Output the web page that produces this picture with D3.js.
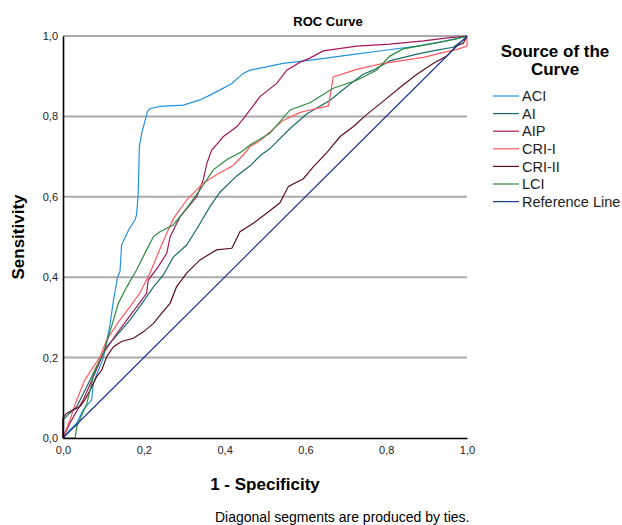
<!DOCTYPE html>
<html>
<head>
<meta charset="utf-8">
<script src="https://cdn.jsdelivr.net/npm/d3@7"></script>
<style>
  body { margin: 0; background: #fff; }
  text { font-family: "Liberation Sans", Arial, sans-serif; }
</style>
</head>
<body>
<div id="chart"></div>
<script>
// ROC curve points: [1 - specificity, sensitivity]
const aci = [[0,0],[0.017,0.02],[0.034,0.037],[0.05,0.07],[0.071,0.095],[0.075,0.136],[0.088,0.169],[0.1,0.2],[0.11,0.25],[0.116,0.28],[0.125,0.343],[0.135,0.4],[0.141,0.414],[0.145,0.48],[0.162,0.517],[0.178,0.542],[0.182,0.555],[0.186,0.604],[0.189,0.725],[0.195,0.759],[0.209,0.812],[0.215,0.819],[0.24,0.825],[0.298,0.828],[0.339,0.841],[0.364,0.853],[0.389,0.866],[0.418,0.882],[0.446,0.907],[0.463,0.915],[0.488,0.92],[0.545,0.932],[0.628,0.942],[0.71,0.953],[0.793,0.964],[0.876,0.975],[0.941,0.986],[0.991,0.998],[1,1]];
const ai = [[0,0],[0,0.045],[0.012,0.057],[0.034,0.078],[0.059,0.128],[0.083,0.177],[0.108,0.227],[0.137,0.26],[0.166,0.294],[0.19,0.327],[0.224,0.376],[0.248,0.405],[0.273,0.45],[0.306,0.48],[0.331,0.52],[0.364,0.576],[0.389,0.612],[0.43,0.652],[0.463,0.677],[0.488,0.702],[0.512,0.72],[0.562,0.77],[0.603,0.806],[0.661,0.84],[0.71,0.88],[0.743,0.905],[0.768,0.915],[0.809,0.938],[0.876,0.955],[0.925,0.965],[0.966,0.972],[0.991,0.99],[1,1]];
const aip = [[0,0],[0.017,0.037],[0.05,0.095],[0.075,0.152],[0.1,0.211],[0.133,0.26],[0.158,0.294],[0.185,0.33],[0.207,0.36],[0.211,0.393],[0.235,0.425],[0.257,0.46],[0.265,0.5],[0.29,0.551],[0.331,0.6],[0.347,0.642],[0.356,0.683],[0.368,0.716],[0.38,0.73],[0.397,0.75],[0.43,0.774],[0.45,0.799],[0.463,0.816],[0.488,0.85],[0.529,0.882],[0.554,0.915],[0.587,0.935],[0.611,0.945],[0.644,0.963],[0.727,0.975],[0.809,0.98],[0.892,0.988],[0.958,0.996],[1,1]];
const cri1 = [[0,0],[0.017,0.045],[0.034,0.095],[0.054,0.144],[0.075,0.177],[0.092,0.202],[0.108,0.244],[0.141,0.294],[0.166,0.327],[0.19,0.36],[0.215,0.41],[0.24,0.47],[0.257,0.51],[0.273,0.545],[0.306,0.592],[0.347,0.634],[0.38,0.655],[0.421,0.678],[0.446,0.704],[0.463,0.725],[0.488,0.74],[0.545,0.79],[0.587,0.81],[0.611,0.816],[0.657,0.826],[0.669,0.898],[0.727,0.917],[0.793,0.932],[0.892,0.947],[0.958,0.963],[0.974,0.966],[1,0.975],[1,1]];
const cri2 = [[0,0],[0,0.05],[0.009,0.061],[0.025,0.07],[0.042,0.078],[0.054,0.095],[0.067,0.119],[0.083,0.152],[0.096,0.169],[0.108,0.202],[0.125,0.227],[0.145,0.24],[0.174,0.248],[0.199,0.264],[0.224,0.285],[0.244,0.31],[0.265,0.335],[0.281,0.376],[0.306,0.41],[0.339,0.443],[0.38,0.468],[0.418,0.472],[0.438,0.513],[0.471,0.534],[0.504,0.559],[0.537,0.585],[0.558,0.626],[0.595,0.645],[0.62,0.675],[0.653,0.71],[0.686,0.75],[0.719,0.775],[0.752,0.805],[0.793,0.838],[0.834,0.872],[0.876,0.905],[0.917,0.932],[0.95,0.95],[0.974,0.976],[0.991,0.982],[1,1]];
const lci = [[0,0],[0.03,0],[0.034,0.028],[0.059,0.086],[0.079,0.169],[0.1,0.211],[0.125,0.294],[0.137,0.335],[0.158,0.376],[0.182,0.418],[0.207,0.468],[0.224,0.501],[0.24,0.513],[0.273,0.53],[0.306,0.571],[0.339,0.617],[0.372,0.667],[0.405,0.692],[0.442,0.712],[0.463,0.729],[0.512,0.758],[0.562,0.816],[0.611,0.834],[0.669,0.87],[0.727,0.89],[0.776,0.915],[0.809,0.95],[0.842,0.968],[0.908,0.98],[0.974,0.993],[1,1]];
const refLine = [[0,0],[1,1]];

const seriesNames = ["ACI", "AI", "AIP", "CRI-I", "CRI-II", "LCI", "Reference Line"];
const seriesColors = ["#2493e0", "#1b6d6a", "#a3195b", "#ff5a5f", "#5e1020", "#2e8a3e", "#1f3a93"];
const tickValues = [0, 0.2, 0.4, 0.6, 0.8, 1.0];

const series = [aci, ai, aip, cri1, cri2, lci, refLine];

const width = 622, height = 525;
const margin = {top: 36, left: 63};
const plotW = 404, plotH = 402;

const svg = d3.select("#chart").append("svg")
    .attr("width", width)
    .attr("height", height);

const g = svg.append("g")
    .attr("transform", `translate(${margin.left},${margin.top})`);

const x = d3.scaleLinear().domain([0, 1]).range([0, plotW]);
const y = d3.scaleLinear().domain([0, 1]).range([plotH, 0]);
const fmt = d => d3.format(".1f")(d).replace(".", ",");

// gridlines
g.selectAll(".grid")
    .data(tickValues.slice(1))
    .join("line")
    .attr("class", "grid")
    .attr("x1", 0)
    .attr("x2", plotW)
    .attr("y1", d => y(d))
    .attr("y2", d => y(d))
    .attr("stroke", "#aaaaaa")
    .attr("stroke-width", 2);

// curves
const line = d3.line().x(d => x(d[0])).y(d => y(d[1]));
g.selectAll(".curve")
    .data(series)
    .join("path")
    .attr("class", "curve")
    .attr("d", line)
    .attr("fill", "none")
    .attr("stroke", (d, i) => seriesColors[i])
    .attr("stroke-width", 1.2);

// axes
const xAxis = g.append("g")
    .attr("transform", `translate(0,${plotH})`)
    .call(d3.axisBottom(x).tickValues(tickValues).tickFormat(fmt).tickSize(0).tickPadding(8));
const yAxis = g.append("g")
    .call(d3.axisLeft(y).tickValues(tickValues).tickFormat(fmt).tickSize(0).tickPadding(5));

[xAxis, yAxis].forEach(a => {
    a.select(".domain").attr("stroke", "#000").attr("stroke-width", 1.6);
    a.selectAll("text")
        .attr("fill", "#222")
        .style("font-size", "11px")
        .style("font-family", "Liberation Sans, Arial, sans-serif");
});

// titles
svg.append("text")
    .attr("x", 328)
    .attr("y", 26)
    .attr("text-anchor", "middle")
    .style("font-size", "13px")
    .style("font-weight", "bold")
    .text("ROC Curve");

svg.append("text")
    .attr("x", margin.left + plotW / 2)
    .attr("y", 490)
    .attr("text-anchor", "middle")
    .style("font-size", "17px")
    .style("font-weight", "bold")
    .text("1 - Specificity");

svg.append("text")
    .attr("transform", `translate(24,${margin.top + plotH / 2}) rotate(-90)`)
    .attr("text-anchor", "middle")
    .style("font-size", "17px")
    .style("font-weight", "bold")
    .text("Sensitivity");

svg.append("text")
    .attr("x", 215)
    .attr("y", 522)
    .style("font-size", "14px")
    .text("Diagonal segments are produced by ties.");

// legend
const legend = svg.append("g");
legend.selectAll(".ltitle")
    .data(["Source of the", "Curve"])
    .join("text")
    .attr("x", 555)
    .attr("y", (d, i) => 57 + i * 18)
    .attr("text-anchor", "middle")
    .style("font-size", "17px")
    .style("font-weight", "bold")
    .text(d => d);

const items = legend.selectAll(".item")
    .data(seriesNames)
    .join("g")
    .attr("transform", (d, i) => `translate(493,${96 + i * 17.6})`);
items.append("line")
    .attr("x1", 0).attr("x2", 26)
    .attr("stroke", (d, i) => seriesColors[i])
    .attr("stroke-width", 1.2);
items.append("text")
    .attr("x", 29)
    .attr("dy", "0.36em")
    .style("font-size", "14.5px")
    .attr("fill", "#222")
    .text(d => d);
</script>
</body>
</html>
